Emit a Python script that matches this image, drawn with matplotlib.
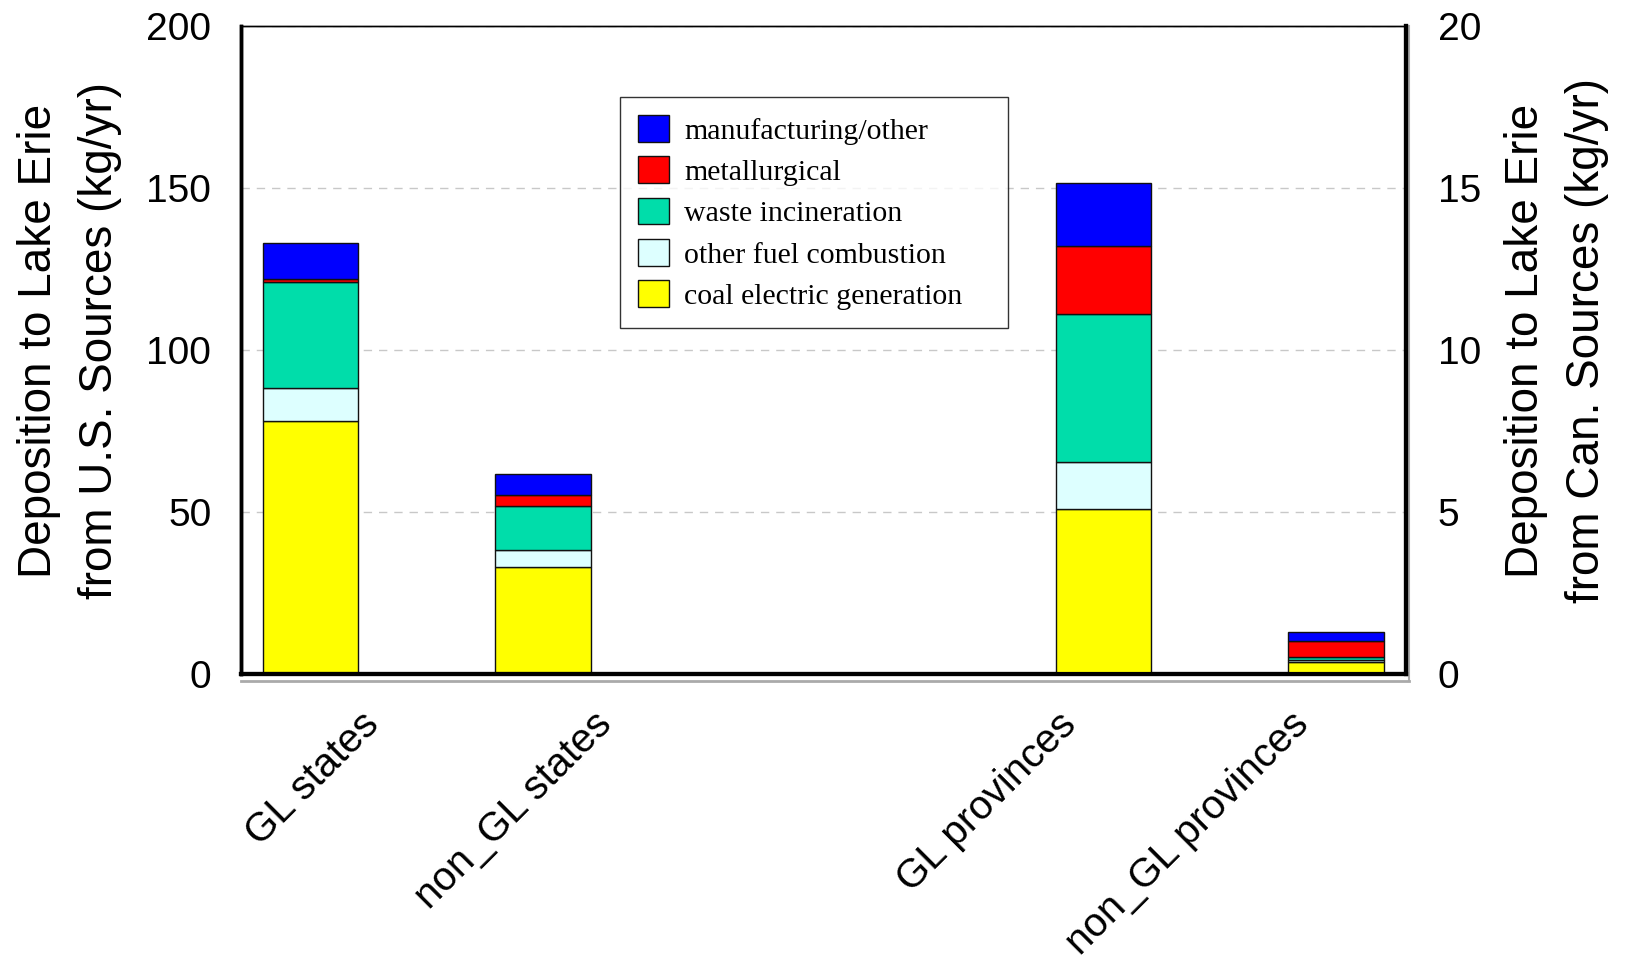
import numpy as np
import matplotlib.pyplot as plt

categories = ['GL states', 'non_GL states', 'GL provinces', 'non_GL provinces']
sources = ['coal electric generation', 'other fuel combustion', 'waste incineration',
           'metallurgical', 'manufacturing/other']
colors = ['#ffff00', '#ddffff', '#00ddaa', '#ff0000', '#0000ff']

# U.S. sources (kg/yr, left axis)
us_coal = [78.2, 33.2]
us_fuel = [10.2, 5.2]
us_waste = [32.6, 13.4]
us_metal = [0.9, 3.4]
us_manuf = [11.1, 6.7]

# Canadian sources (kg/yr, right axis)
can_coal = [5.09, 0.36]
can_fuel = [1.46, 0.07]
can_waste = [4.55, 0.10]
can_metal = [2.12, 0.50]
can_manuf = [1.94, 0.26]

plt.rcParams['font.family'] = ['Liberation Sans', 'DejaVu Sans']

fig = plt.figure(figsize=(16.25, 9.63), dpi=100)
ax = fig.add_axes([0.148, 0.300, 0.717, 0.673])
ax2 = ax.twinx()

# category slots (one empty slot between the two groups); bars sit a bit off the slot
slots = np.array([0.0, 1.0, 3.0, 4.0])
x_us = slots[:2] - 0.27
x_can = slots[2:] + 0.14
width = 0.41

us = np.array([us_coal, us_fuel, us_waste, us_metal, us_manuf])
can = np.array([can_coal, can_fuel, can_waste, can_metal, can_manuf])

bottom = np.zeros(2)
handles = []
for vals, c, name in zip(us, colors, sources):
    h = ax.bar(x_us, vals, width, bottom=bottom, color=c, edgecolor='#111111', linewidth=1.0, label=name)
    handles.append(h)
    bottom += vals

bottom = np.zeros(2)
for vals, c in zip(can, colors):
    ax2.bar(x_can, vals, width, bottom=bottom, color=c, edgecolor='#111111', linewidth=1.0)
    bottom += vals

ax.set_xlim(-0.57, 4.44)
ax.set_ylim(0, 200)
ax2.set_ylim(0, 20)
ax.set_yticks([0, 50, 100, 150, 200])
ax2.set_yticks([0, 5, 10, 15, 20])
ax.yaxis.grid(True, linestyle=(0, (6, 5)), color='#c8c8c8', linewidth=1.0)
ax.set_axisbelow(True)

ax.tick_params(axis='y', length=0, labelsize=28, pad=21)
ax2.tick_params(axis='y', length=0, labelsize=28, pad=23)

ax.set_xticks(slots)
ax.set_xticklabels(categories, rotation=45, ha='right', va='center', rotation_mode='anchor', fontsize=29)
ax.tick_params(axis='x', length=0, pad=32)

fig.text(0.0425, 0.646, 'Deposition to Lake Erie\nfrom U.S. Sources (kg/yr)', rotation=90,
         ha='center', va='center', fontsize=33, linespacing=1.5)
fig.text(0.958, 0.646, 'Deposition to Lake Erie\nfrom Can. Sources (kg/yr)', rotation=90,
         ha='center', va='center', fontsize=33, linespacing=1.5)

for a in (ax, ax2):
    a.spines['left'].set_linewidth(2.5)
    a.spines['bottom'].set_linewidth(3.0)
    a.spines['right'].set_linewidth(3.0)
    a.spines['top'].set_linewidth(1.0)

# gray shadow under the baseline and beside the right edge
ax.plot([0, 1.003], [-0.010, -0.010], transform=ax.transAxes, color='#aaaaaa', linewidth=2, clip_on=False)
ax.plot([1.003, 1.003], [-0.010, 1.0], transform=ax.transAxes, color='#aaaaaa', linewidth=1.5, clip_on=False)

leg = ax.legend(handles[::-1], sources[::-1], loc='upper left', bbox_to_anchor=(0.326, 0.5, 0.333, 0.390),
                mode='expand', prop={'family': 'Liberation Serif', 'size': 21.5}, frameon=True,
                fancybox=False, edgecolor='black', handlelength=1.03, handleheight=1.0, borderpad=0.6,
                labelspacing=0.39, handletextpad=0.5, borderaxespad=0)
leg.get_frame().set_linewidth(1.0)
leg.set_zorder(5)

fig.savefig('out.png', dpi=100)
